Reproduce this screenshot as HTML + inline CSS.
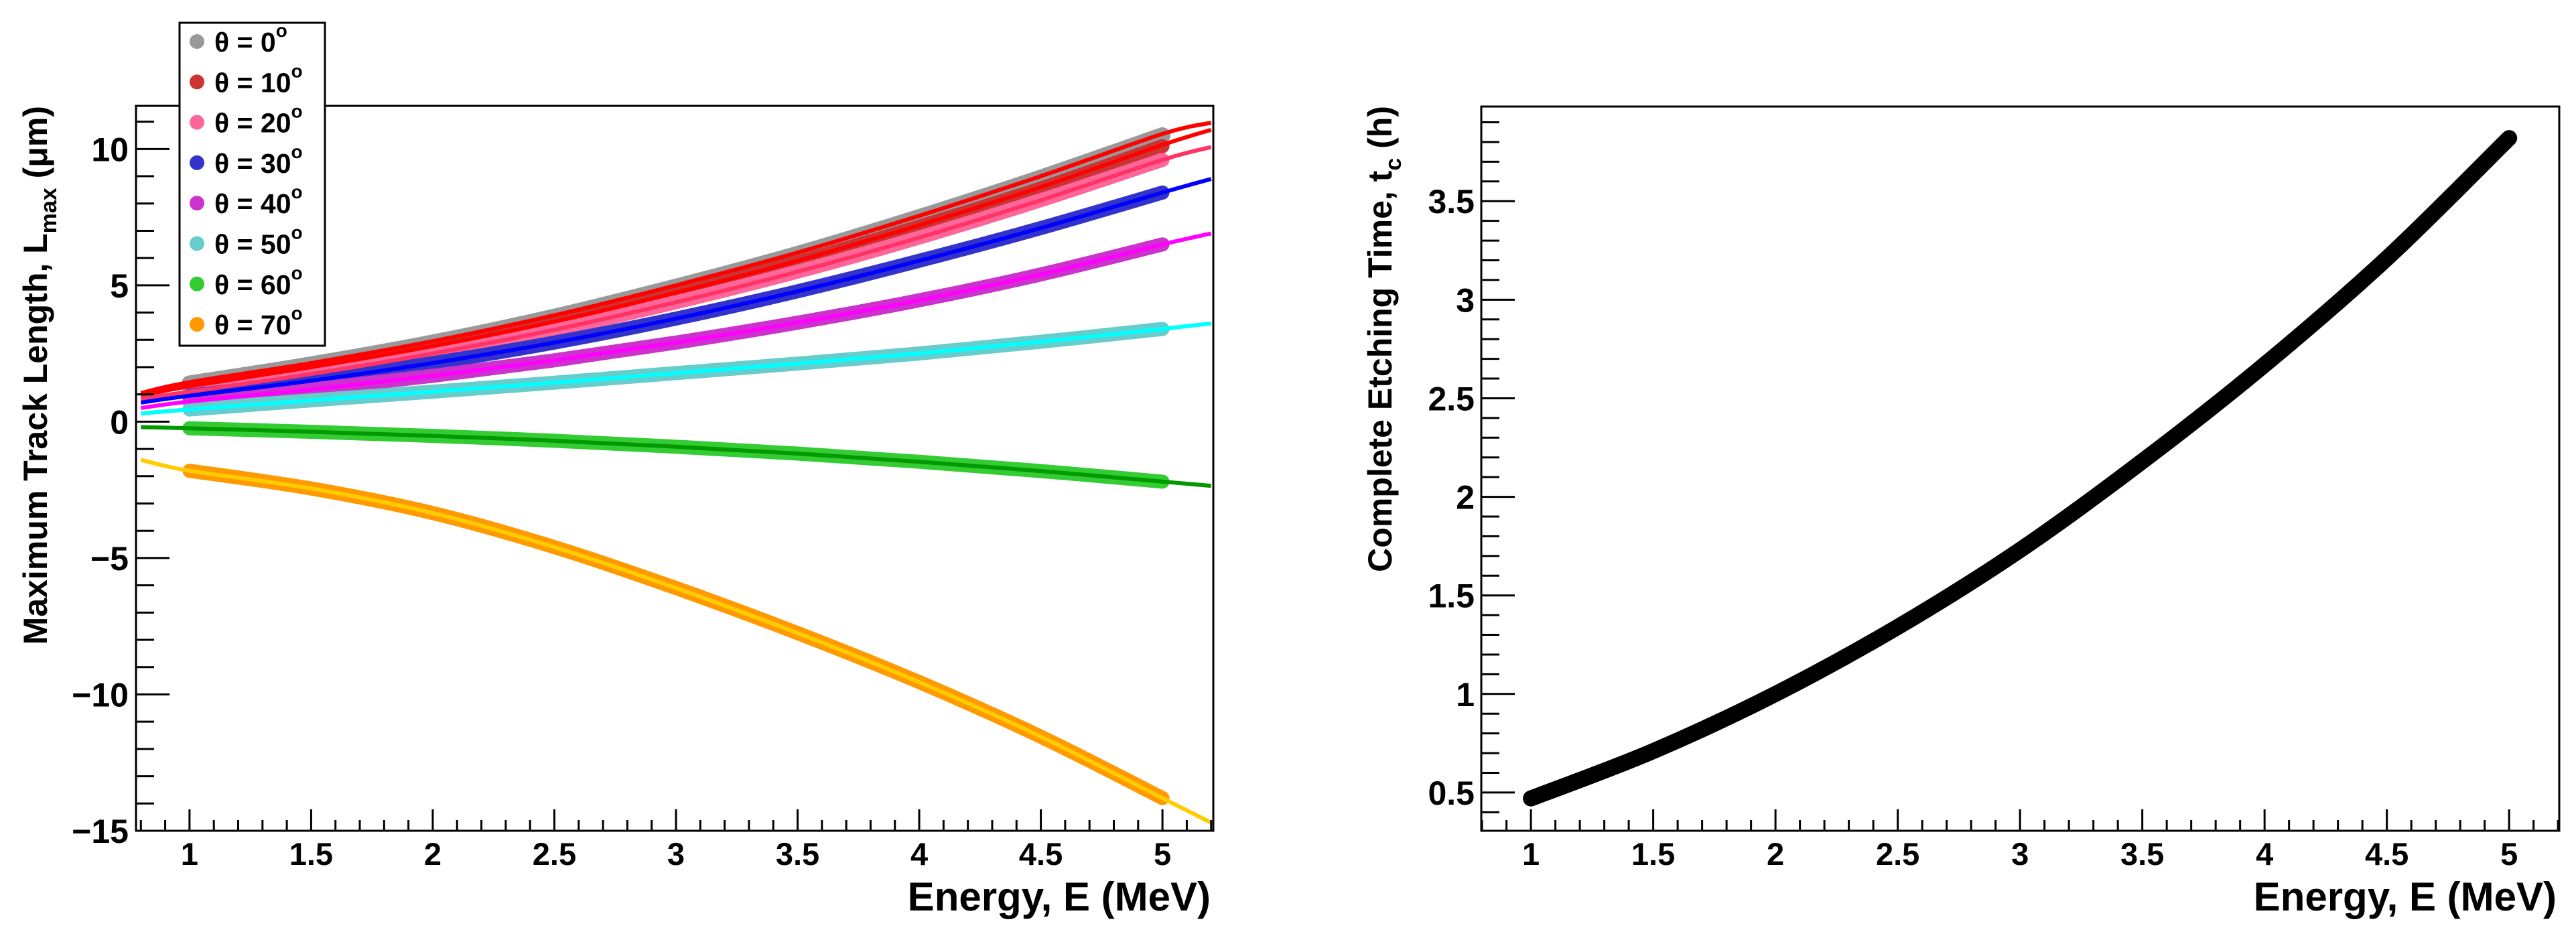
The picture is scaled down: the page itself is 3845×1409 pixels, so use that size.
<!DOCTYPE html>
<html><head><meta charset="utf-8"><style>
html,body{margin:0;padding:0;background:#fff;}
svg{display:block;font-family:"Liberation Sans",sans-serif;font-weight:bold;}
</style></head><body>
<svg id="fig" width="3845" height="1409" viewBox="0 0 3845 1409" xmlns="http://www.w3.org/2000/svg">
<rect x="0" y="0" width="3845" height="1409" fill="#fff"/>
<g id="left"></g>
<g id="right"></g>
</svg>
<script>
// ---- data: left chart ----
const energies = [1,1.5,2,2.5,3,3.5,4,4.5,5];
const angles = ["0","10","20","30","40","50","60","70"];
const len0  = [1.4,2.1,2.9,3.85,4.95,6.15,7.5,8.95,10.5];
const len10 = [1.25,1.95,2.72,3.62,4.68,5.85,7.15,8.55,10.1];
const len20 = [1.1,1.75,2.5,3.37,4.38,5.5,6.75,8.12,9.6];
const len30 = [0.95,1.5,2.15,2.9,3.78,4.78,5.9,7.1,8.4];
const len40 = [0.74,1.18,1.68,2.25,2.9,3.63,4.45,5.4,6.5];
const len50 = [0.45,0.78,1.1,1.43,1.78,2.13,2.5,2.93,3.4];
const len60 = [-0.24,-0.37,-0.52,-0.7,-0.92,-1.17,-1.47,-1.81,-2.2];
const len70 = [-1.8,-2.45,-3.35,-4.6,-6.1,-7.75,-9.55,-11.55,-13.8];
const fitEnergyLo = 0.8, fitEnergyHi = 5.2;
const fitLo = [1.05,0.95,0.85,0.7,0.5,0.3,-0.2,-1.4];
const fitHi = [10.96,10.7,10.07,8.9,6.9,3.6,-2.35,-14.7];
const xTicks = [1,1.5,2,2.5,3,3.5,4,4.5,5];
const xTickLabels = ["1","1.5","2","2.5","3","3.5","4","4.5","5"];
const yTicksL = [-15,-10,-5,0,5,10];
const yTickLabelsL = ["\u221215","\u221210","\u22125","0","5","10"];
// ---- data: right chart ----
const etchTime = [0.47,0.71,1.0,1.34,1.73,2.18,2.67,3.21,3.82];
const yTicksR = [0.5,1,1.5,2,2.5,3,3.5];
const yTickLabelsR = ["0.5","1","1.5","2","2.5","3","3.5"];

const bandColors = ["#999999","#cc3333","#ff6699","#3333cc","#cc33cc","#66cccc","#33cc33","#ff9900"];
const fitColors  = ["#ff0000","#ff0000","#ff3366","#0000ff","#ff00ff","#00ffff","#009900","#ffcc00"];
const series = [len0,len10,len20,len30,len40,len50,len60,len70];

const NS="http://www.w3.org/2000/svg";
function mk(tag, attrs, parent){const e=document.createElementNS(NS,tag);for(const k in attrs)e.setAttribute(k,attrs[k]);parent.appendChild(e);return e;}
function smoothPath(pts){
  let d="M"+pts[0][0].toFixed(1)+","+pts[0][1].toFixed(1);
  for(let i=0;i<pts.length-1;i++){
    const p0=pts[Math.max(0,i-1)],p1=pts[i],p2=pts[i+1],p3=pts[Math.min(pts.length-1,i+2)];
    const c1=[p1[0]+(p2[0]-p0[0])/6,p1[1]+(p2[1]-p0[1])/6];
    const c2=[p2[0]-(p3[0]-p1[0])/6,p2[1]-(p3[1]-p1[1])/6];
    d+=" C"+c1[0].toFixed(1)+","+c1[1].toFixed(1)+" "+c2[0].toFixed(1)+","+c2[1].toFixed(1)+" "+p2[0].toFixed(1)+","+p2[1].toFixed(1);
  }
  return d;
}

// ---------- LEFT ----------
const L=document.getElementById('left');
const LF={x0:203,y0:158,x1:1811,y1:1240};
const lxmin=0.78,lxmax=5.209,lymin=-15,lymax=11.58;
const lx=e=>LF.x0+(e-lxmin)/(lxmax-lxmin)*(LF.x1-LF.x0);
const ly=v=>LF.y1-(v-lymin)/(lymax-lymin)*(LF.y1-LF.y0);

series.forEach((s,i)=>{
  const pts=energies.map((e,j)=>[lx(e),ly(s[j])]);
  const p=mk('path',{d:smoothPath(pts),fill:'none',stroke:bandColors[i],'stroke-width':i===0?24:21,'stroke-linecap':'round','stroke-linejoin':'round'},L);
  
  
});
series.forEach((s,i)=>{
  const pts=[[lx(fitEnergyLo),ly(fitLo[i])]].concat(energies.map((e,j)=>[lx(e),ly(s[j]+(i<2?0.05:0))])).concat([[lx(fitEnergyHi),ly(fitHi[i])]]);
  const p=mk('path',{d:smoothPath(pts),fill:'none',stroke:fitColors[i],'stroke-width':6},L);
  
  
});
const lframe=mk('rect',{x:LF.x0,y:LF.y0,width:LF.x1-LF.x0,height:LF.y1-LF.y0,fill:'none',stroke:'#000','stroke-width':3},L);



function xAxis(G,F,fx,xmin,xmax){
  for(let k=Math.ceil(xmin*10-1e-6);k<=Math.floor(xmax*10+1e-6);k++){
    const e=k/10,x=fx(e);const major=(k%5===0);
    const t=mk('line',{x1:x,x2:x,y1:F.y1,y2:F.y1-(major?32:16),stroke:'#000','stroke-width':3},G);
    
    
  }
  xTicks.forEach((e,i)=>{
    const t=mk('text',{x:fx(e),y:1291,'font-size':47,'text-anchor':'middle'},G);
    t.textContent=xTickLabels[i];
    
    
  });
  const tt=mk('text',{x:F.x1-4,y:1359,'font-size':60,'text-anchor':'end'},G);
  tt.textContent="Energy, E (MeV)";
  
  
}
xAxis(L,LF,lx,lxmin,lxmax);
for(let v=-15;v<=11;v++){
  const y=ly(v),major=(v%5===0);
  const t=mk('line',{x1:LF.x0,x2:LF.x0+(major?50:27),y1:y,y2:y,stroke:'#000','stroke-width':3},L);
  
  
}
yTicksL.forEach((v,i)=>{
  const t=mk('text',{x:192,y:ly(v)+18,'font-size':50,'text-anchor':'end'},L);
  t.textContent=yTickLabelsL[i];
  
  
});
const ytl=mk('text',{x:0,y:0,'font-size':50,'text-anchor':'end',transform:'translate(70,158) rotate(-90)'},L);
ytl.innerHTML='Maximum Track Length, L<tspan font-size="34" dy="14">max</tspan><tspan dy="-14"> (\u03bcm)</tspan>';



// legend
const LG=mk('g',{},L);


mk('rect',{x:268,y:34,width:217,height:482,fill:'#fff',stroke:'#000','stroke-width':3},LG);
angles.forEach((a,i)=>{
  const cy=62+i*60.3;
  const c=mk('circle',{cx:294,cy:cy,r:11,fill:bandColors[i]},LG);
  
  
  const t=mk('text',{x:320,y:cy+15,'font-size':41},LG);
  t.innerHTML='\u03b8 = '+a+'<tspan font-size="28" dy="-22">o</tspan>';
  
  
});

// ---------- RIGHT ----------
const R=document.getElementById('right');
const RF={x0:2211,y0:159,x1:3820,y1:1240};
const rxmin=0.797,rxmax=5.205,rymin=0.306,rymax=3.98;
const rx=e=>RF.x0+(e-rxmin)/(rxmax-rxmin)*(RF.x1-RF.x0);
const ry=v=>RF.y1-(v-rymin)/(rymax-rymin)*(RF.y1-RF.y0);
const rp=mk('path',{d:smoothPath(energies.map((e,j)=>[rx(e),ry(etchTime[j])])),fill:'none',stroke:'#000','stroke-width':24,'stroke-linecap':'round'},R);


const rframe=mk('rect',{x:RF.x0,y:RF.y0,width:RF.x1-RF.x0,height:RF.y1-RF.y0,fill:'none',stroke:'#000','stroke-width':3},R);


xAxis(R,RF,rx,rxmin,rxmax);
for(let k=4;k<=39;k++){
  const y=ry(k/10),major=(k%5===0);
  const t=mk('line',{x1:RF.x0,x2:RF.x0+(major?50:27),y1:y,y2:y,stroke:'#000','stroke-width':3},R);
  
  
}
yTicksR.forEach((v,i)=>{
  const t=mk('text',{x:2201,y:ry(v)+18,'font-size':50,'text-anchor':'end'},R);
  t.textContent=yTickLabelsR[i];
  
  
});
const ytr=mk('text',{x:0,y:0,'font-size':50,'text-anchor':'end',transform:'translate(2077,158) rotate(-90)'},R);
ytr.innerHTML='Complete Etching Time, t<tspan font-size="34" dy="14">c</tspan><tspan dy="-14"> (h)</tspan>';


</script>
</body></html>
